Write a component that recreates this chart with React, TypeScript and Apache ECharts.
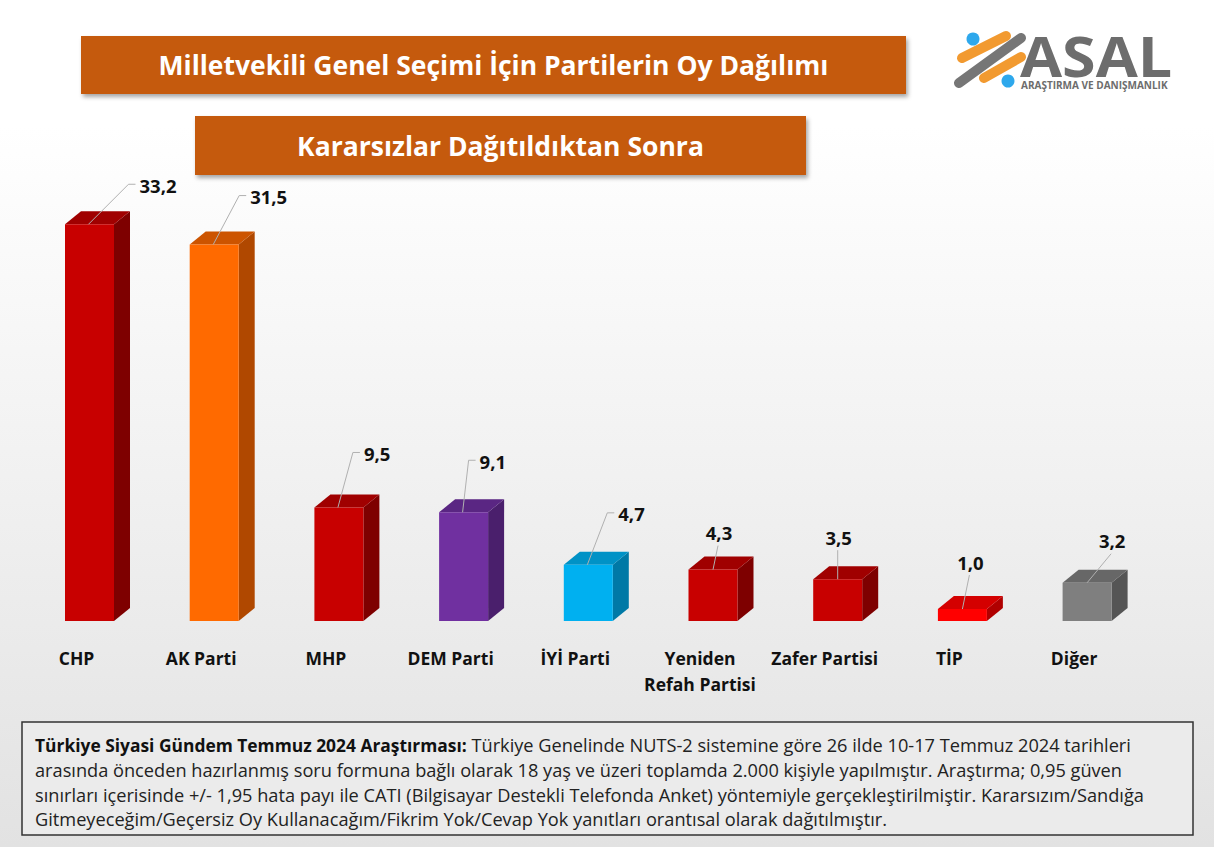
import React, { useEffect, useRef } from "react";
import * as echarts from "echarts";

// ---- data ----
const categories = [
  "CHP",
  "AK Parti",
  "MHP",
  "DEM Parti",
  "İYİ Parti",
  "Yeniden\nRefah Partisi",
  "Zafer Partisi",
  "TİP",
  "Diğer",
];
const values = [33.2, 31.5, 9.5, 9.1, 4.7, 4.3, 3.5, 1.0, 3.2];

const titleMain = "Milletvekili Genel Seçimi İçin Partilerin Oy Dağılımı";
const titleSub = "Kararsızlar Dağıtıldıktan Sonra";
const noteBold = "Türkiye Siyasi Gündem Temmuz 2024 Araştırması:";
const noteLines = [
  " Türkiye Genelinde NUTS-2 sistemine göre 26 ilde 10-17 Temmuz 2024 tarihleri",
  "arasında önceden hazırlanmış soru formuna bağlı olarak 18 yaş ve üzeri toplamda 2.000 kişiyle yapılmıştır. Araştırma; 0,95 güven",
  "sınırları içerisinde +/- 1,95 hata payı ile CATI (Bilgisayar Destekli Telefonda Anket) yöntemiyle gerçekleştirilmiştir. Kararsızım/Sandığa",
  "Gitmeyeceğim/Geçersiz Oy Kullanacağım/Fikrim Yok/Cevap Yok yanıtları orantısal olarak dağıtılmıştır.",
];

// ---- styles ----
const FONT = "'Open Sans', 'Noto Sans', sans-serif";
const RED = ["#c80000", "#a00000", "#7e0000"];
const BAR_COLORS = [
  RED,
  ["#ff6a00", "#cc5400", "#b04800"],
  RED,
  ["#7030a0", "#5a2683", "#4a1f6c"],
  ["#00b0f0", "#0092c6", "#0079a6"],
  RED,
  RED,
  ["#ff0000", "#d40000", "#b00000"],
  ["#7f7f7f", "#676767", "#555555"],
];
// label placement relative to bar front-top centre: [dx, dy, mode]
const LABEL_PLACE: [number, number, string][] = [
  [50, -39, "side"],
  [36, -48, "side"],
  [25, -54, "side"],
  [16, -51, "side"],
  [30, -51, "side"],
  [6, -37, "top"],
  [1, -42, "top"],
  [8, -47, "top"],
  [25, -42, "top"],
];

const FRONT_W = 49;
const BAR_SHIFT = 13;
const DEPTH_X = 16;
const DEPTH_Y = 13;

function fmt(v: number) {
  return v.toFixed(1).replace(".", ",");
}

export default function App() {
  const ref = useRef<HTMLDivElement>(null);

  useEffect(() => {
    if (!ref.current) return;
    const chart = echarts.init(ref.current, null, { renderer: "svg" });

    const renderItem = (params: any, api: any) => {
      const idx = api.value(0);
      const val = api.value(1);
      const top = api.coord([idx, val]);
      const base = api.coord([idx, 0]);
      const fc = top[0] + BAR_SHIFT;
      const x0 = fc - FRONT_W / 2;
      const x1 = x0 + FRONT_W;
      const yT = top[1];
      const yB = base[1];
      const [cf, ct, cs] = BAR_COLORS[idx];
      const [ldx, ldy, mode] = LABEL_PLACE[idx];
      const children: any[] = [
        {
          type: "polygon",
          shape: {
            points: [
              [x1, yT],
              [x1 + DEPTH_X, yT - DEPTH_Y],
              [x1 + DEPTH_X, yB - DEPTH_Y],
              [x1, yB],
            ],
          },
          style: { fill: cs },
        },
        {
          type: "polygon",
          shape: {
            points: [
              [x0, yT],
              [x0 + DEPTH_X, yT - DEPTH_Y],
              [x1 + DEPTH_X, yT - DEPTH_Y],
              [x1, yT],
            ],
          },
          style: { fill: ct },
        },
        {
          type: "rect",
          shape: { x: x0, y: yT, width: FRONT_W, height: yB - yT },
          style: { fill: cf },
        },
      ];
      const ly = yT + ldy;
      const lx = fc + ldx;
      if (mode === "side") {
        children.push({
          type: "polyline",
          shape: {
            points: [
              [fc - 1, yT],
              [lx - 11, ly - 1],
              [lx - 4, ly - 1],
            ],
          },
          style: { stroke: "#b0b0b0", lineWidth: 1, fill: "none" },
        });
        children.push({
          type: "text",
          style: {
            x: lx,
            y: ly,
            text: fmt(val),
            fill: "#111111",
            font: `bold 18.5px ${FONT}`,
            align: "left",
            verticalAlign: "middle",
          },
        });
      } else {
        children.push({
          type: "line",
          shape: { x1: fc, y1: yT, x2: lx - 1, y2: ly + 13 },
          style: { stroke: "#b0b0b0", lineWidth: 1 },
        });
        children.push({
          type: "text",
          style: {
            x: lx,
            y: ly,
            text: fmt(val),
            fill: "#111111",
            font: `bold 18.5px ${FONT}`,
            align: "center",
            verticalAlign: "middle",
          },
        });
      }
      return { type: "group", children };
    };

    const titleBox = (x: number, y: number, w: number, h: number, text: string) => ({
      type: "group",
      children: [
        {
          type: "rect",
          shape: { x, y, width: w, height: h },
          style: {
            fill: "#c55a11",
            shadowColor: "rgba(0,0,0,0.35)",
            shadowBlur: 4,
            shadowOffsetX: 2,
            shadowOffsetY: 3,
          },
        },
        {
          type: "text",
          style: {
            x: x + w / 2,
            y: y + h / 2,
            text,
            fill: "#ffffff",
            font: `bold 26.5px ${FONT}`,
            align: "center",
            verticalAlign: "middle",
          },
        },
      ],
    });

    const option: any = {
      animation: false,
      backgroundColor: new echarts.graphic.LinearGradient(0, 0, 0, 1, [
        { offset: 0, color: "#ffffff" },
        { offset: 0.15, color: "#ffffff" },
        { offset: 1, color: "#e2e2e2" },
      ]),
      grid: { left: 14.15, right: 77.55, top: 202.75, bottom: 226 },
      xAxis: {
        type: "category",
        data: categories,
        axisLine: { show: false },
        axisTick: { show: false },
        splitLine: { show: false },
        axisLabel: {
          interval: 0,
          margin: 24,
          color: "#111111",
          fontFamily: FONT,
          fontWeight: "bold",
          fontSize: 17.5,
          lineHeight: 26,
        },
      },
      yAxis: {
        type: "value",
        min: 0,
        max: 35,
        show: false,
        splitLine: { show: false },
      },
      series: [
        {
          type: "custom",
          renderItem,
          data: values.map((v, i) => [i, v]),
          encode: { x: 0, y: 1 },
          clip: false,
        },
      ],
      graphic: [
        titleBox(81, 36, 825, 58, titleMain),
        titleBox(195, 116, 611, 59, titleSub),
        // logo
        {
          type: "group",
          children: [
            {
              type: "line",
              shape: { x1: 962, y1: 58, x2: 1006, y2: 36 },
              style: { stroke: "#f29a30", lineWidth: 10, lineCap: "round" },
            },
            {
              type: "line",
              shape: { x1: 984, y1: 78, x2: 1021, y2: 57 },
              style: { stroke: "#f29a30", lineWidth: 10, lineCap: "round" },
            },
            {
              type: "line",
              shape: { x1: 959, y1: 83, x2: 1021, y2: 38 },
              style: { stroke: "#767676", lineWidth: 10, lineCap: "round" },
            },
            { type: "circle", shape: { cx: 973, cy: 39, r: 6.5 }, style: { fill: "#2ea8ec" } },
            { type: "circle", shape: { cx: 1008, cy: 81, r: 6.5 }, style: { fill: "#2ea8ec" } },
            {
              type: "text",
              x: 1020,
              y: 55,
              scaleX: 1.09,
              style: {
                x: 0,
                y: 0,
                text: "ASAL",
                fill: "#6d6d6d",
                font: `bold 56px ${FONT}`,
                lineHeight: 40,
                align: "left",
                verticalAlign: "middle",
              },
            },
            {
              type: "text",
              style: {
                x: 1021,
                y: 85,
                text: "ARAŞTIRMA VE DANIŞMANLIK",
                fill: "#6d6d6d",
                font: `bold 10px ${FONT}`,
                lineHeight: 10,
                align: "left",
                verticalAlign: "middle",
              },
            },
          ],
        },
        // footer note
        {
          type: "rect",
          shape: { x: 22, y: 722, width: 1171, height: 113 },
          style: { fill: "#ebebeb", stroke: "#333333", lineWidth: 1.5 },
        },
        {
          type: "text",
          style: {
            x: 35,
            y: 733,
            text: `{b|${noteBold}}{r|${noteLines[0]}}\n{r|${noteLines[1]}}\n{r|${noteLines[2]}}\n{r|${noteLines[3]}}`,
            align: "left",
            verticalAlign: "top",
            rich: {
              b: {
                font: `bold 17.4px ${FONT}`,
                fill: "#111111",
                lineHeight: 24.7,
              },
              r: {
                font: `18.2px ${FONT}`,
                fill: "#222222",
                lineHeight: 24.7,
              },
            },
          },
        },
      ],
    };

    chart.setOption(option);
    return () => chart.dispose();
  }, []);

  return (
    <div
      ref={ref}
      style={{ position: "fixed", left: 0, top: 0, width: 1214, height: 847 }}
    />
  );
}
